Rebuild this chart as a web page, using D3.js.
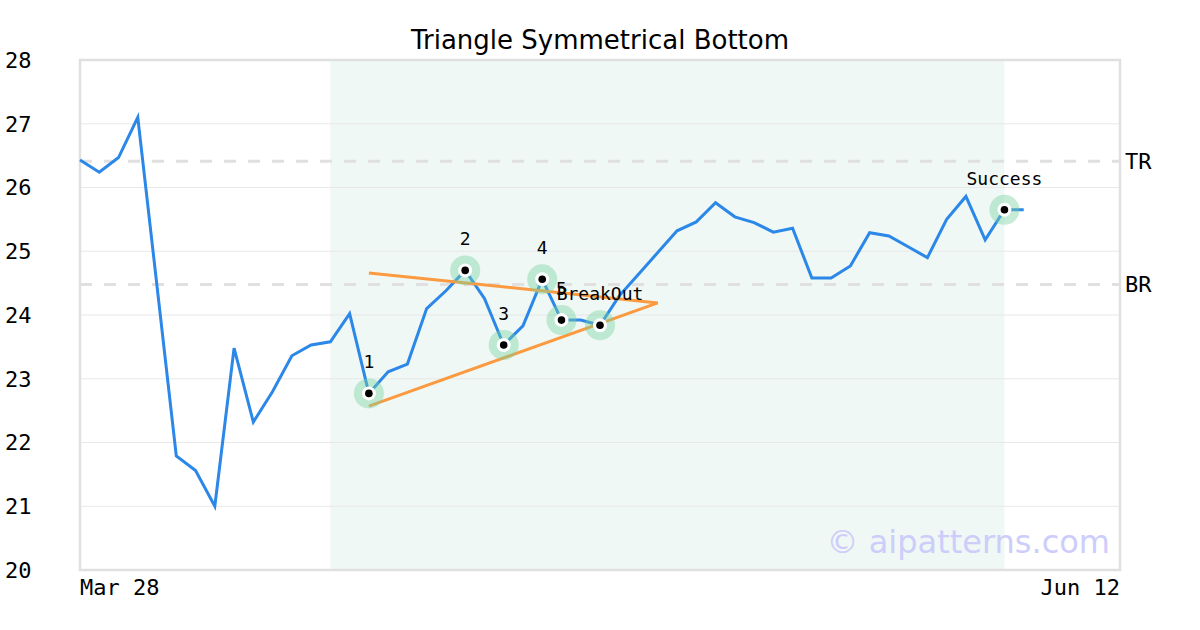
<!DOCTYPE html>
<html><head><meta charset="utf-8">
<script src="https://cdn.jsdelivr.net/npm/d3@7/dist/d3.min.js"></script>
<style>body{margin:0;background:#fff}svg{display:block}</style>
</head><body>
<svg id="c" width="1200" height="630"></svg>
<script>
const title = "Triangle Symmetrical Bottom";
const prices = [26.43,26.24,26.47,27.10,24.45,21.79,21.56,21.00,23.48,22.32,
  22.80,23.36,23.53,23.58,24.02,22.77,23.11,23.23,24.10,24.38,
  24.70,24.26,23.53,23.83,24.56,23.92,23.92,23.84,24.30,24.64,
  24.98,25.32,25.46,25.76,25.54,25.45,25.30,25.36,24.58,24.58,
  24.77,25.29,25.24,25.07,24.90,25.50,25.86,25.18,25.65,25.65];
const markerIdx = [15,20,22,24,25,27,48];
const markerLabels = ["1","2","3","4","5","BreakOut","Success"];
const upperLine = [[15,24.66],[30,24.19]];
const lowerLine = [[15,22.57],[30,24.19]];
const levels = [{name:"TR", v:26.41},{name:"BR", v:24.48}];
const shade = [13,48];
const yTicks = [20,21,22,23,24,25,26,27,28];
const xTickIdx = [0,54];
const xTickLabels = ["Mar 28","Jun 12"];
const watermark = "© aipatterns.com";

const svg = d3.select("#c");
const L=80,R=1120,T=60,B=570;
const x = d3.scaleLinear().domain([0,54]).range([L,R]);
const y = d3.scaleLinear().domain([20,28]).range([B,T]);
const mono = "'DejaVu Sans Mono', monospace";
const sans = "'DejaVu Sans', sans-serif";

// shaded region
svg.append("rect").attr("x",x(shade[0])).attr("y",T).attr("width",x(shade[1])-x(shade[0])).attr("height",B-T).attr("fill","#eff8f4");

// grid
svg.append("g").selectAll("line").data(yTicks.filter(d=>d>20&&d<28)).join("line")
  .attr("x1",L).attr("x2",R).attr("y1",d=>y(d)).attr("y2",d=>y(d))
  .attr("stroke","#e8e8e8").attr("stroke-width",1.2);

// level lines
svg.append("g").selectAll("line").data(levels).join("line")
  .attr("x1",L).attr("x2",R).attr("y1",d=>y(d.v)).attr("y2",d=>y(d.v))
  .attr("stroke","#e0e0e0").attr("stroke-width",3).attr("stroke-dasharray","12,12");
svg.append("g").selectAll("text").data(levels).join("text")
  .attr("x",R+5).attr("y",d=>y(d.v)).attr("dy","0.36em")
  .attr("font-family",mono).attr("font-size",22).attr("fill","#000").text(d=>d.name);

// border
svg.append("rect").attr("x",L).attr("y",T).attr("width",R-L).attr("height",B-T)
  .attr("fill","none").attr("stroke","#e0e0e0").attr("stroke-width",2.5);

// y ticks
svg.append("g").selectAll("text").data(yTicks).join("text")
  .attr("x",5).attr("y",d=>y(d)).attr("dy","0.36em")
  .attr("font-family",mono).attr("font-size",22).attr("fill","#000").text(d=>d);

// x ticks
svg.append("g").selectAll("text").data(xTickIdx).join("text")
  .attr("x",d=>x(d)).attr("y",595)
  .attr("text-anchor",(d,i)=>i===0?"start":"end")
  .attr("font-family",mono).attr("font-size",22).attr("fill","#000").text((d,i)=>xTickLabels[i]);

// watermark
svg.append("text").attr("x",1110).attr("y",553).attr("text-anchor","end")
  .attr("font-family",sans).attr("font-size",32).attr("fill","#cdcdfb").text(watermark);

// price line
const line = d3.line().x((d,i)=>x(i)).y(d=>y(d));
svg.append("path").datum(prices).attr("d",line).attr("fill","none")
  .attr("stroke","#2b87e8").attr("stroke-width",3).attr("stroke-linejoin","miter");

// triangle lines
const tl = d3.line().x(d=>x(d[0])).y(d=>y(d[1]));
[upperLine,lowerLine].forEach(l=>{
  svg.append("path").datum(l).attr("d",tl).attr("fill","none")
    .attr("stroke","#fb9a40").attr("stroke-width",3);
});

// markers
const mk = svg.append("g").selectAll("g").data(markerIdx).join("g")
  .attr("transform",d=>`translate(${x(d)},${y(prices[d])})`);
mk.append("circle").attr("r",15).attr("fill","rgba(120,210,160,0.42)");
mk.append("circle").attr("r",7).attr("fill","#fff");
mk.append("circle").attr("r",3.8).attr("fill","#000");
mk.append("text").attr("y",-25).attr("text-anchor","middle")
  .attr("font-family",mono).attr("font-size",18).attr("fill","#000")
  .text((d,i)=>markerLabels[i]);

// title
svg.append("text").attr("x",600).attr("y",49).attr("text-anchor","middle")
  .attr("font-family",sans).attr("font-size",26).attr("fill","#000").text(title);
</script>
</body></html>
